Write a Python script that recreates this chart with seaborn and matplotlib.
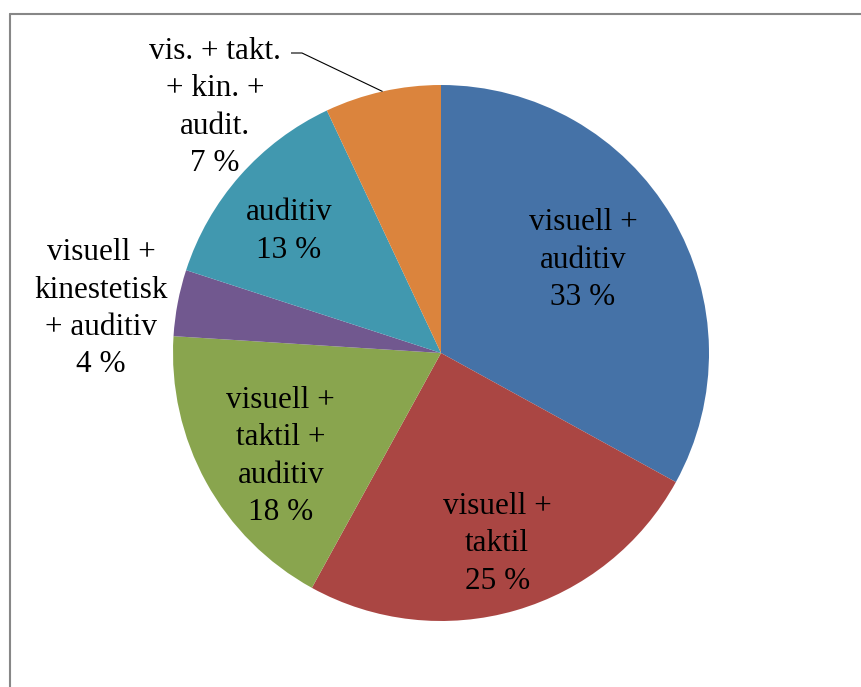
import numpy as np
import matplotlib
matplotlib.use("Agg")
import matplotlib.pyplot as plt
from matplotlib.lines import Line2D
import seaborn as sns

categories = [
    "visuell +\nauditiv",
    "visuell +\ntaktil",
    "visuell +\ntaktil +\nauditiv",
    "visuell +\nkinestetisk\n+ auditiv",
    "auditiv",
    "vis. + takt.\n+ kin. +\naudit.",
]
values = [33, 25, 18, 4, 13, 7]
colors = ["#4572A7", "#AA4643", "#89A54E", "#71588F", "#4198AF", "#DB843D"]

sns.set_theme(style="white")
plt.rcParams["font.family"] = ["Liberation Serif", "DejaVu Serif"]

W, H = 861, 687
fig = plt.figure(figsize=(W / 100, H / 100), dpi=100)
fig.patch.set_facecolor("white")

cx, cy, R = 441, 353, 268
ax = fig.add_axes([(cx - R) / W, (H - cy - R) / H, 2 * R / W, 2 * R / H])
palette = sns.color_palette(colors)
wedges, _ = ax.pie(values, colors=palette, startangle=90, counterclock=False,
                   radius=1.0, wedgeprops=dict(linewidth=0))
ax.set_xlim(-1, 1)
ax.set_ylim(-1, 1)
ax.set_aspect("equal")
ax.axis("off")

# label placement style: radial distance and angular nudge (degrees)
dists = [0.64, 0.73, 0.705, 1.28, 0.735, None]
nudges = [3.5, 0.5, 3.2, 2.8, 2.0, 0.0]
fs = 22.5
ls = 1.38
dy = -3.5 / R
for w, lab, v, d, nd in zip(wedges, categories, values, dists, nudges):
    mid = np.deg2rad((w.theta1 + w.theta2) / 2)
    txt = f"{lab}\n{v} %"
    if d is not None:
        a = mid + np.deg2rad(nd)
        ax.text(d * np.cos(a), d * np.sin(a) + dy, txt, ha="center", va="center",
                multialignment="center", fontsize=fs, color="black",
                linespacing=ls)
    else:
        # outside label with leader line
        lx, ly = (215 - cx) / R, (cy - 104) / R
        ax.text(lx, ly + dy, txt, ha="center", va="center", multialignment="center",
                fontsize=fs, color="black", clip_on=False, linespacing=ls)
        px, py = np.cos(mid) * 1.0, np.sin(mid) * 1.0
        ex, ey = (291 - cx) / R, (cy - 53) / R
        kx = (302 - cx) / R
        ax.plot([ex, kx, px], [ey, ey, py], color="black", lw=0.8,
                clip_on=False, solid_capstyle="butt")

# chart area frame (partially visible)
fy = 1 - 14 / H
fx = 10 / W
fig.add_artist(Line2D([fx, 1.0], [fy, fy], transform=fig.transFigure,
                      color="#878787", lw=1.5))
fig.add_artist(Line2D([fx, fx], [0.0, fy], transform=fig.transFigure,
                      color="#878787", lw=1.5))

fig.savefig("out.png", dpi=100, facecolor="white")
